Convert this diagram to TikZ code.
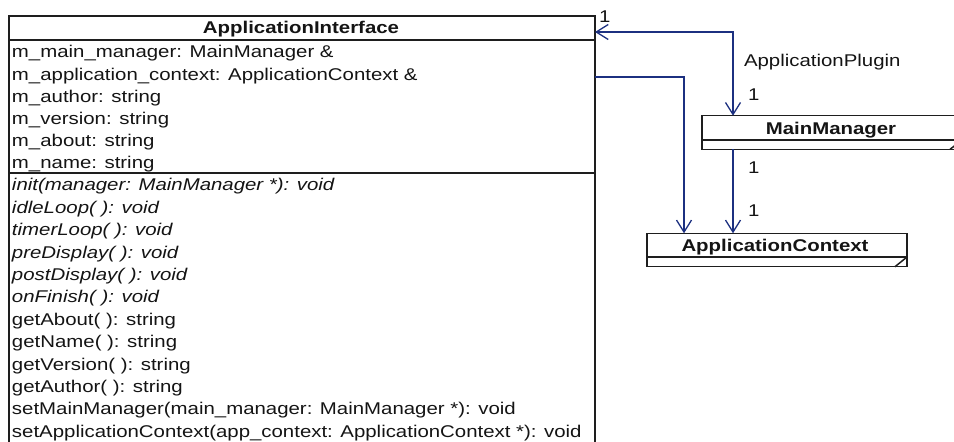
\documentclass[tikz,border=0pt]{standalone}
\usepackage{fontspec}
\setmainfont[FakeStretch=1.2]{Liberation Sans}
\usetikzlibrary{arrows.meta}
\definecolor{assocblue}{RGB}{28,48,128}
\definecolor{boxline}{RGB}{30,30,30}
\begin{document}
\begin{tikzpicture}[x=1pt,y=-1pt,
  every node/.style={inner sep=0pt, outer sep=0pt, font=\fontsize{17pt}{20pt}\selectfont},
  umlbox/.style={draw=boxline, line width=1.5pt, rectangle},
  sepline/.style={draw=boxline, line width=1.5pt},
  member/.style={anchor=base west, text=black!92},
  opmember/.style={member, font=\fontsize{17pt}{20pt}\selectfont\itshape},
  title/.style={anchor=base, font=\fontsize{17pt}{20pt}\selectfont\bfseries, text=black!92},
  mult/.style={anchor=base west, text=black!92},
  assoc/.style={draw=assocblue, line width=1.3pt, line join=miter,
    -{Straight Barb[length=12pt,width=15pt,line width=1.3pt]}},
  assocboth/.style={assoc,
    {Straight Barb[length=12pt,width=15pt,line width=1.3pt]}-{Straight Barb[length=12pt,width=15pt,line width=1.3pt]}}
]
\useasboundingbox (0,0) rectangle (954,442);

% ---- ApplicationInterface ----
\node[umlbox, minimum width=586pt, minimum height=428pt] (ai) at (302,230) {};
\draw[sepline] (9,40) -- (595,40);
\draw[sepline] (9,173) -- (595,173);
\node[title] (aititle) at (301,33.5) {ApplicationInterface};

\node[member] (a1) at (12,57.9)  {m\_main\_manager: MainManager \&};
\node[member] (a2) at (12,80.1)  {m\_application\_context: ApplicationContext \&};
\node[member] (a3) at (12,102.3) {m\_author: string};
\node[member] (a4) at (12,124.5) {m\_version: string};
\node[member] (a5) at (12,146.7) {m\_about: string};
\node[member] (a6) at (12,168.9) {m\_name: string};

\node[opmember] (o1)  at (12,190.9) {init(manager: MainManager *): void};
\node[opmember] (o2)  at (12,213.3) {idleLoop( ): void};
\node[opmember] (o3)  at (12,235.7) {timerLoop( ): void};
\node[opmember] (o4)  at (12,258.1) {preDisplay( ): void};
\node[opmember] (o5)  at (12,280.5) {postDisplay( ): void};
\node[opmember] (o6)  at (12,302.9) {onFinish( ): void};
\node[member]   (o7)  at (12,325.3) {getAbout( ): string};
\node[member]   (o8)  at (12,347.7) {getName( ): string};
\node[member]   (o9)  at (12,370.1) {getVersion( ): string};
\node[member]   (o10) at (12,392.5) {getAuthor( ): string};
\node[member]   (o11) at (12,414.9) {setMainManager(main\_manager: MainManager *): void};
\node[member]   (o12) at (12,437.3) {setApplicationContext(app\_context: ApplicationContext *): void};

% ---- MainManager ----
\node[umlbox, minimum width=260pt, minimum height=33.6pt] (mm) at (832,132.5) {};
\draw[sepline] (mm.west |- 0,140) -- (mm.east |- 0,140);
\draw[sepline] ([xshift=-12pt]mm.south east) -- ([yshift=9.2pt]mm.south east);
\node[title] (mmtitle) at (831,134.3) {MainManager};

% ---- ApplicationContext ----
\node[umlbox, minimum width=260pt, minimum height=33.4pt] (ac) at (777,250) {};
\draw[sepline] (ac.west |- 0,257) -- (ac.east |- 0,257);
\draw[sepline] ([xshift=-12pt]ac.south east) -- ([yshift=9.7pt]ac.south east);
\node[title] (actitle) at (775,251.7) {ApplicationContext};

% ---- associations ----
\coordinate (plug) at (733,32);
\coordinate (ctx) at (684,77);

\draw[assocboth] (ai.east |- plug) -- (plug) -- (mm.north -| plug);
\draw[assoc] (ai.east |- ctx) -- (ctx) -- (ac.north -| ctx);
\draw[assoc] (mm.south -| plug) -- (ac.north -| plug);

\node[mult] (m1) at (599,22) {1};
\node[mult] (plabel) at (744,66.3) {ApplicationPlugin};
\node[mult] (m2) at (748,100) {1};
\node[mult] (m3) at (748,173) {1};
\node[mult] (m4) at (748,216.7) {1};
\end{tikzpicture}
\end{document}
